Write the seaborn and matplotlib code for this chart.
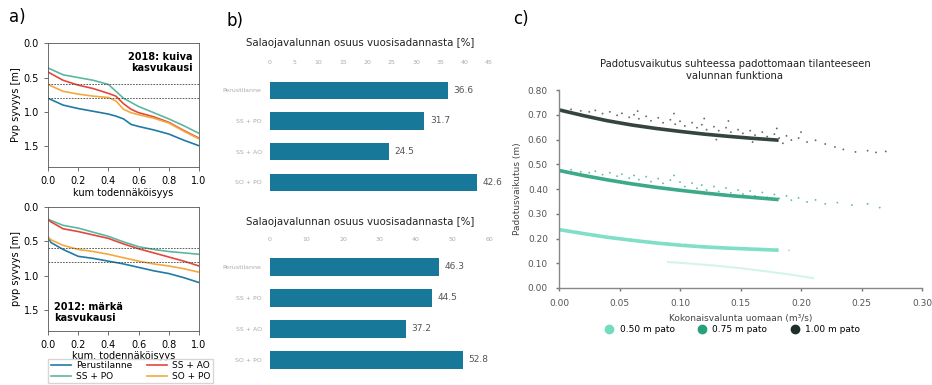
import numpy as np
import pandas as pd
import matplotlib
matplotlib.use("Agg")
import matplotlib.pyplot as plt
import seaborn as sns
from matplotlib.lines import Line2D

# panel a data: cumulative probability vs groundwater depth
scen = ['Perustilanne', 'SS + PO', 'SS + AO', 'SO + PO']
scen_colors = ['#1f7ba6', '#5cb7a0', '#e4473b', '#f3a93c']

x_2018 = [0, 0.1, 0.2, 0.3, 0.4, 0.45, 0.5, 0.55, 0.6, 0.7, 0.8, 0.9, 1.0]
y_2018_perus = [0.80, 0.90, 0.95, 0.99, 1.03, 1.06, 1.10, 1.18, 1.21, 1.26, 1.32, 1.41, 1.49]
y_2018_sspo = [0.36, 0.46, 0.50, 0.54, 0.60, 0.70, 0.80, 0.86, 0.92, 1.01, 1.10, 1.20, 1.31]
y_2018_ssao = [0.42, 0.54, 0.61, 0.66, 0.73, 0.77, 0.88, 0.96, 1.01, 1.07, 1.15, 1.27, 1.38]
y_2018_sopo = [0.60, 0.70, 0.74, 0.77, 0.79, 0.84, 0.96, 1.01, 1.04, 1.09, 1.16, 1.28, 1.39]

x_2012 = [0, 0.02, 0.1, 0.2, 0.3, 0.4, 0.5, 0.6, 0.7, 0.8, 0.9, 1.0]
y_2012_perus = [0.44, 0.52, 0.62, 0.72, 0.75, 0.79, 0.83, 0.88, 0.93, 0.97, 1.03, 1.10]
y_2012_sspo = [0.18, 0.20, 0.27, 0.31, 0.37, 0.43, 0.51, 0.58, 0.62, 0.65, 0.67, 0.69]
y_2012_ssao = [0.19, 0.22, 0.32, 0.36, 0.41, 0.46, 0.54, 0.61, 0.67, 0.73, 0.79, 0.86]
y_2012_sopo = [0.44, 0.48, 0.56, 0.62, 0.65, 0.69, 0.74, 0.79, 0.83, 0.86, 0.90, 0.95]

# panel b data
bar_cats = ['Perustilanne', 'SS + PO', 'SS + AO', 'SO + PO']
bar_top = [36.6, 31.7, 24.5, 42.6]
bar_bottom = [46.3, 44.5, 37.2, 52.8]
bar_color = '#17789a'

# panel c data: dam effect vs runoff
pato_names = ['0.50 m pato', '0.75 m pato', '1.00 m pato']
pato_colors = ['#72dcc0', '#27a07c', '#1e2f2c']

curve_x = [0, 0.02, 0.04, 0.06, 0.08, 0.10, 0.12, 0.14, 0.16, 0.18]
curve_100 = [0.720, 0.697, 0.676, 0.659, 0.645, 0.633, 0.622, 0.613, 0.605, 0.598]
curve_075 = [0.475, 0.455, 0.437, 0.421, 0.407, 0.395, 0.384, 0.374, 0.366, 0.358]
curve_050 = [0.236, 0.220, 0.205, 0.193, 0.182, 0.173, 0.166, 0.161, 0.157, 0.153]

pts100_x = [0.010, 0.018, 0.025, 0.030, 0.036, 0.042, 0.048, 0.052, 0.058, 0.062, 0.065, 0.066, 0.072,
            0.076, 0.082, 0.086, 0.092, 0.095, 0.096, 0.100, 0.104, 0.110, 0.114, 0.118, 0.120, 0.122,
            0.128, 0.130, 0.132, 0.138, 0.140, 0.142, 0.148, 0.152, 0.158, 0.160, 0.162, 0.168, 0.172,
            0.178, 0.180, 0.182, 0.188, 0.192, 0.198, 0.200, 0.205, 0.212, 0.220, 0.228, 0.235, 0.245,
            0.255, 0.262, 0.270, 0.185]
pts100_y = [0.722, 0.716, 0.712, 0.718, 0.705, 0.712, 0.698, 0.706, 0.690, 0.700, 0.715, 0.684, 0.694,
            0.676, 0.688, 0.668, 0.680, 0.705, 0.662, 0.674, 0.655, 0.668, 0.648, 0.660, 0.685, 0.640,
            0.652, 0.600, 0.636, 0.648, 0.675, 0.630, 0.640, 0.625, 0.636, 0.590, 0.618, 0.630, 0.612,
            0.622, 0.645, 0.606, 0.615, 0.598, 0.606, 0.630, 0.590, 0.597, 0.582, 0.570, 0.560, 0.550,
            0.555, 0.548, 0.552, 0.585]
pts075_x = [0.010, 0.018, 0.025, 0.030, 0.036, 0.042, 0.048, 0.052, 0.058, 0.062, 0.066, 0.072, 0.076,
            0.082, 0.086, 0.092, 0.095, 0.100, 0.104, 0.110, 0.114, 0.118, 0.122, 0.128, 0.132, 0.138,
            0.142, 0.148, 0.152, 0.158, 0.162, 0.168, 0.172, 0.178, 0.182, 0.188, 0.192, 0.198, 0.205,
            0.212, 0.220, 0.230, 0.242, 0.255, 0.265]
pts075_y = [0.478, 0.470, 0.466, 0.472, 0.458, 0.466, 0.452, 0.460, 0.444, 0.455, 0.438, 0.450, 0.430,
            0.442, 0.423, 0.436, 0.455, 0.428, 0.410, 0.424, 0.403, 0.416, 0.396, 0.410, 0.390, 0.404,
            0.385, 0.396, 0.380, 0.392, 0.372, 0.386, 0.366, 0.378, 0.362, 0.372, 0.355, 0.364, 0.348,
            0.356, 0.340, 0.345, 0.335, 0.340, 0.325]
pts050_x = [0.015, 0.030, 0.045, 0.060, 0.075, 0.090, 0.105, 0.120, 0.135, 0.150, 0.165, 0.180, 0.190]
pts050_y = [0.228, 0.214, 0.203, 0.196, 0.188, 0.182, 0.176, 0.170, 0.166, 0.162, 0.159, 0.156, 0.152]
trail050_x = [0.09, 0.11, 0.13, 0.15, 0.17, 0.19, 0.21]
trail050_y = [0.105, 0.098, 0.090, 0.080, 0.068, 0.055, 0.040]

cond = dict(family='DejaVu Sans', fontstretch='condensed')

fig = plt.figure(figsize=(9.32, 3.85), dpi=100)

# ---------- panel a ----------
def line_panel(ax, xs, ys, ylab, xlab):
    rows = []
    for name, yy in zip(scen, ys):
        for xv, yv in zip(xs, yy):
            rows.append({'x': xv, 'y': yv, 'scen': name})
    df = pd.DataFrame(rows)
    sns.lineplot(data=df, x='x', y='y', hue='scen', palette=scen_colors, hue_order=scen,
                 estimator=None, linewidth=1.2, ax=ax, legend=False)
    for lvl in [0.6, 0.8]:
        ax.axhline(lvl, color='#444444', linestyle='--', linewidth=0.6, dashes=(2, 1.5))
    ax.set_xlim(0, 1)
    ax.set_ylim(1.8, 0)
    ax.set_xticks([0, 0.2, 0.4, 0.6, 0.8, 1.0])
    ax.set_yticks([0, 0.5, 1.0, 1.5])
    ax.tick_params(labelsize=7, length=3, width=0.6, color='#555555')
    for s in ax.spines.values():
        s.set_linewidth(0.6)
        s.set_color('#555555')
    ax.set_ylabel(ylab, fontsize=7, labelpad=2)
    ax.set_xlabel(xlab, fontsize=7, labelpad=1)

ax1 = fig.add_axes([0.0515, 0.566, 0.162, 0.322])
line_panel(ax1, x_2018, [y_2018_perus, y_2018_sspo, y_2018_ssao, y_2018_sopo],
           'Pvp syvyys [m]', 'kum todennäköisyys')
ax1.text(0.96, 0.93, '2018: kuiva\nkasvukausi', transform=ax1.transAxes, ha='right', va='top',
         fontsize=7, fontweight='bold', linespacing=1.1)

ax2 = fig.add_axes([0.0515, 0.141, 0.162, 0.322])
line_panel(ax2, x_2012, [y_2012_perus, y_2012_sspo, y_2012_ssao, y_2012_sopo],
           'pvp syvyys [m]', 'kum. todennäköisyys')
ax2.text(0.04, 0.06, '2012: märkä\nkasvukausi', transform=ax2.transAxes, ha='left', va='bottom',
         fontsize=7, fontweight='bold', linespacing=1.1)

handles = [Line2D([], [], color=c, linewidth=1.2) for c in scen_colors]
fig.legend(handles, scen, loc='center', bbox_to_anchor=(0.140, 0.036), ncol=2, fontsize=6.5,
           frameon=True, edgecolor='#cccccc', fancybox=False, borderpad=0.25, labelspacing=0.15,
           columnspacing=1.6, handlelength=2.2, handletextpad=0.6)

# ---------- panel b ----------
def bar_panel(ax, vals, xmax, step, title_y):
    df = pd.DataFrame({'cat': bar_cats, 'val': vals})
    sns.barplot(data=df, x='val', y='cat', color=bar_color, width=0.56, ax=ax,
                saturation=1, orient='h')
    ax.set_xlim(0, xmax)
    ax.set_xticks(np.arange(0, xmax + 0.1, step))
    ax.xaxis.tick_top()
    ax.tick_params(axis='x', labelsize=4.5, labelcolor='#aaaaaa', length=0, pad=7)
    ax.tick_params(axis='y', labelsize=4.5, labelcolor='#aaaaaa', length=0, pad=6)
    ax.set_xlabel('')
    ax.set_ylabel('')
    for s in ax.spines.values():
        s.set_visible(False)
    ax.bar_label(ax.containers[0], fmt='%.1f', padding=4, fontsize=6.5, color='#555555')
    fig.text(360 / 932, title_y, 'Salaojavalunnan osuus vuosisadannasta [%]', ha='center',
             va='center', fontsize=8.2, color='#222222', **cond)

axb1 = fig.add_axes([0.2897, 0.487, 0.235, 0.318])
bar_panel(axb1, bar_top, 45, 5, 0.888)
axb2 = fig.add_axes([0.2897, 0.025, 0.235, 0.322])
bar_panel(axb2, bar_bottom, 60, 10, 0.423)

# ---------- panel c ----------
axc = fig.add_axes([0.5998, 0.252, 0.3895, 0.514])
curves = pd.DataFrame({
    'x': curve_x * 3,
    'y': curve_050 + curve_075 + curve_100,
    'pato': [pato_names[0]] * len(curve_x) + [pato_names[1]] * len(curve_x) + [pato_names[2]] * len(curve_x),
})
sns.lineplot(data=curves, x='x', y='y', hue='pato', palette=pato_colors, hue_order=pato_names,
             estimator=None, linewidth=2.6, alpha=0.9, ax=axc, legend=False)
pts = pd.DataFrame({
    'x': pts050_x + pts075_x + pts100_x,
    'y': pts050_y + pts075_y + pts100_y,
    'pato': [pato_names[0]] * len(pts050_x) + [pato_names[1]] * len(pts075_x) + [pato_names[2]] * len(pts100_x),
})
sns.scatterplot(data=pts, x='x', y='y', hue='pato', palette=pato_colors, hue_order=pato_names,
                s=1.8, linewidth=0, alpha=0.7, ax=axc, legend=False)
sns.lineplot(x=trail050_x, y=trail050_y, color=pato_colors[0], linewidth=1.5, alpha=0.3, ax=axc)

axc.set_xlim(0, 0.30)
axc.set_ylim(0, 0.80)
axc.set_xticks(np.arange(0, 0.301, 0.05))
axc.set_yticks(np.arange(0, 0.801, 0.1))
axc.xaxis.set_major_formatter(matplotlib.ticker.FormatStrFormatter('%.2f'))
axc.yaxis.set_major_formatter(matplotlib.ticker.FormatStrFormatter('%.2f'))
axc.tick_params(labelsize=6.5, labelcolor='#555555', length=2, width=1, color='#777777', pad=6)
for side in ['top', 'right']:
    axc.spines[side].set_visible(False)
for side in ['left', 'bottom']:
    axc.spines[side].set_color('#888888')
    axc.spines[side].set_linewidth(1)
axc.set_xlabel('Kokonaisvalunta uomaan (m³/s)', fontsize=6.5, color='#444444', labelpad=4)
axc.set_ylabel('Padotusvaikutus (m)', fontsize=6.5, color='#444444', labelpad=4)

fig.text(735 / 932, 0.818, 'Padotusvaikutus suhteessa padottomaan tilanteeseen\nvalunnan funktiona',
         ha='center', va='center', fontsize=8.0, linespacing=1.35, color='#222222', **cond)
chandles = [Line2D([], [], marker='o', linestyle='', markersize=6, color=c) for c in pato_colors]
fig.legend(chandles, pato_names, loc='center', bbox_to_anchor=(730 / 932, 0.143), ncol=3,
           frameon=False, fontsize=6.5, handletextpad=0.2, columnspacing=2.0)

# panel letters
fig.text(0.010, 0.955, 'a)', fontsize=12, va='center')
fig.text(0.243, 0.945, 'b)', fontsize=12, va='center')
fig.text(0.551, 0.950, 'c)', fontsize=12, va='center')

fig.savefig('out.png', dpi=100)
